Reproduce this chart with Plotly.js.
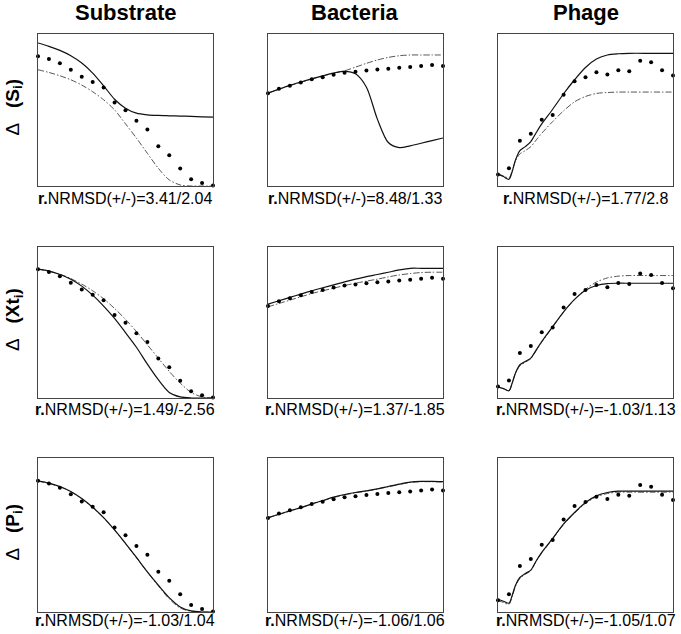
<!DOCTYPE html>
<html>
<head>
<meta charset="utf-8">
<script src="https://cdn.plot.ly/plotly-3.0.1.min.js"></script>
<style>html,body{margin:0;padding:0;background:#fff;}#chart{width:681px;height:634px;}</style>
</head>
<body>
<div id="chart"></div>
<script>
// ---- data ----
const columns = ["Substrate", "Bacteria", "Phage"];
const rowLabels = ["S", "Xt", "P"];
const nrmsd = [
  ["3.41/2.04", "8.48/1.33", "1.77/2.8"],
  ["1.49/-2.56", "1.37/-1.85", "-1.03/1.13"],
  ["-1.03/1.04", "-1.06/1.06", "-1.05/1.07"]
];

const xObs = [0,1,2,3,4,5,6,7,8,9,10,11,12,13,14,15,16];
const xLine = [0,1,2,3,4,5,6,7,8,9,10,11,12,13,14,15,16];
const xLinePhage = [0,0.5,1,1.3,1.6,2,2.5,3,3.5,4,5,6,7,8,9,10,11,12,14,16];

const obsSubstrate = [0.853,0.835,0.807,0.764,0.718,0.684,0.648,0.549,0.499,0.429,0.371,0.261,0.203,0.115,0.045,0.019,0.003];
const obsBacteria  = [0.610,0.640,0.660,0.681,0.702,0.716,0.732,0.745,0.751,0.760,0.766,0.772,0.778,0.783,0.789,0.796,0.789];
const obsPhage     = [0.076,0.116,0.298,0.344,0.436,0.467,0.600,0.689,0.715,0.749,0.734,0.762,0.755,0.824,0.814,0.762,0.727];

// row 1: Delta(S_i)
const subS_solid = [0.941,0.919,0.892,0.857,0.809,0.743,0.659,0.571,0.512,0.479,0.468,0.464,0.462,0.460,0.458,0.455,0.453];
const subS_dd    = [0.765,0.747,0.725,0.699,0.664,0.620,0.567,0.501,0.409,0.315,0.215,0.117,0.040,0.007,0,0,0];
const bacS_solid = [0.611,0.637,0.662,0.684,0.705,0.725,0.743,0.754,0.738,0.650,0.440,0.286,0.253,0.264,0.281,0.299,0.316];
const bacS_dd    = [0.611,0.637,0.660,0.682,0.704,0.723,0.743,0.758,0.782,0.807,0.829,0.846,0.857,0.862,0.862,0.862,0.862];
const phaS_solid = [0.079,0.062,0.044,0.095,0.171,0.233,0.259,0.292,0.352,0.409,0.505,0.607,0.699,0.780,0.835,0.862,0.870,0.873,0.873,0.873];
const phaS_dd    = [0.079,0.066,0.053,0.101,0.167,0.211,0.233,0.259,0.303,0.347,0.424,0.495,0.554,0.589,0.609,0.615,0.618,0.618,0.618,0.618];

// row 2: Delta(Xt_i)
const subX_solid = [0.853,0.840,0.818,0.787,0.741,0.681,0.609,0.527,0.433,0.336,0.224,0.121,0.037,0.007,0,0,0];
const subX_dd    = [0.853,0.840,0.820,0.791,0.754,0.710,0.657,0.593,0.521,0.440,0.352,0.264,0.176,0.099,0.037,0.007,0];
const bacX_solid = [0.622,0.644,0.666,0.688,0.710,0.730,0.749,0.769,0.787,0.804,0.818,0.833,0.848,0.859,0.859,0.859,0.859];
const bacX_dd    = [0.604,0.626,0.648,0.670,0.692,0.710,0.727,0.745,0.760,0.774,0.787,0.802,0.815,0.824,0.831,0.833,0.833];
const phaX_solid = [0.073,0.062,0.048,0.099,0.165,0.220,0.242,0.264,0.319,0.374,0.473,0.571,0.653,0.714,0.745,0.758,0.760,0.760,0.760,0.760];
const phaX_dd    = [0.073,0.062,0.048,0.099,0.165,0.213,0.237,0.260,0.315,0.370,0.470,0.570,0.652,0.720,0.768,0.795,0.807,0.811,0.811,0.811];

// row 3: Delta(P_i)
const subP_solid = [0.852,0.837,0.815,0.783,0.737,0.680,0.613,0.533,0.446,0.354,0.261,0.174,0.093,0.033,0.007,0,0];
const subP_dd    = [0.850,0.835,0.813,0.781,0.735,0.678,0.611,0.531,0.444,0.352,0.259,0.170,0.085,0.026,0.004,0,0];
const bacP_solid = [0.613,0.635,0.657,0.678,0.702,0.724,0.746,0.763,0.776,0.787,0.800,0.815,0.830,0.843,0.848,0.848,0.846];
const bacP_dd    = [0.611,0.633,0.655,0.676,0.700,0.722,0.743,0.760,0.774,0.785,0.798,0.813,0.828,0.841,0.846,0.846,0.844];
const phaP_solid = [0.083,0.070,0.057,0.109,0.174,0.224,0.250,0.272,0.333,0.387,0.478,0.572,0.646,0.711,0.754,0.776,0.785,0.785,0.785,0.785];
const phaP_dd    = [0.075,0.062,0.050,0.100,0.168,0.218,0.245,0.268,0.330,0.383,0.475,0.568,0.642,0.706,0.748,0.769,0.778,0.778,0.778,0.778];

// ---- build ----
const W = 681, H = 634;
const colPx = [[38,213],[268,443],[498,673]];
const rowPx = [[34,186],[247,398],[458,612]];
const labelPx = [198, 409, 620];

const obsByCol = [obsSubstrate, obsBacteria, obsPhage];
const xLineByCol = [xLine, xLine, xLinePhage];
const solids = [[subS_solid,bacS_solid,phaS_solid],[subX_solid,bacX_solid,phaX_solid],[subP_solid,bacP_solid,phaP_solid]];
const dds = [[subS_dd,bacS_dd,phaS_dd],[subX_dd,bacX_dd,phaX_dd],[subP_dd,bacP_dd,phaP_dd]];

const traces = [];
const layout = {
  width: W, height: H,
  margin: {l:0, r:0, t:0, b:0},
  paper_bgcolor: '#fff', plot_bgcolor: '#fff',
  showlegend: false,
  font: {family: 'Liberation Sans, Arial, sans-serif', color: '#000'},
  annotations: []
};

for (let r = 0; r < 3; r++) {
  for (let c = 0; c < 3; c++) {
    const n = r*3 + c + 1;
    const xa = 'x' + (n === 1 ? '' : n), ya = 'y' + (n === 1 ? '' : n);
    const xKey = 'xaxis' + (n === 1 ? '' : n), yKey = 'yaxis' + (n === 1 ? '' : n);
    const axBase = {showticklabels:false, ticks:'', showgrid:false, zeroline:false,
                    showline:true, mirror:true, linecolor:'#444', linewidth:1, fixedrange:true};
    layout[xKey] = Object.assign({}, axBase, {domain:[colPx[c][0]/W, colPx[c][1]/W], range:[0,16], anchor: ya});
    layout[yKey] = Object.assign({}, axBase, {domain:[1-rowPx[r][1]/H, 1-rowPx[r][0]/H], range:[0,1], anchor: xa});

    traces.push({x: xLineByCol[c], y: dds[r][c], xaxis: xa, yaxis: ya, mode:'lines',
                 line:{color:'#555', width:1, dash:'6px,2px,1.5px,2px', shape:'spline', smoothing:0.8}, hoverinfo:'skip'});
    traces.push({x: xLineByCol[c], y: solids[r][c], xaxis: xa, yaxis: ya, mode:'lines',
                 line:{color:'#111', width:1.2, shape:'spline', smoothing:0.8}, hoverinfo:'skip'});
    traces.push({x: xObs, y: obsByCol[c], xaxis: xa, yaxis: ya, mode:'markers', cliponaxis:false,
                 marker:{color:'#000', size:4}, hoverinfo:'skip'});

    layout.annotations.push({
      xref:'paper', yref:'paper', x:(colPx[c][0]+colPx[c][1])/2/W, y:1-labelPx[r]/H,
      xanchor:'center', yanchor:'middle', showarrow:false,
      text:'<b>r.</b>NRMSD(+/-)=' + nrmsd[r][c],
      font:{size:16, family:'Liberation Sans, Arial, sans-serif', color:'#000'}
    });
  }
  layout.annotations.push({
    xref:'paper', yref:'paper', x:13.5/W, y:1-((rowPx[r][0]+rowPx[r][1])/2 - 3)/H,
    xanchor:'center', yanchor:'middle', showarrow:false, textangle:-90,
    text:'Δ   <b>(' + rowLabels[r] + '<sub>i</sub>)</b>',
    font:{size:19, family:'Liberation Sans, Arial, sans-serif', color:'#000'}
  });
}
for (let c = 0; c < 3; c++) {
  layout.annotations.push({
    xref:'paper', yref:'paper', x:(colPx[c][0]+colPx[c][1])/2/W, y:1-13/H,
    xanchor:'center', yanchor:'middle', showarrow:false,
    text:'<b>' + columns[c] + '</b>',
    font:{size:22, family:'Liberation Sans, Arial, sans-serif', color:'#000'}
  });
}

Plotly.newPlot('chart', traces, layout, {staticPlot:true, displayModeBar:false});
</script>
</body>
</html>
